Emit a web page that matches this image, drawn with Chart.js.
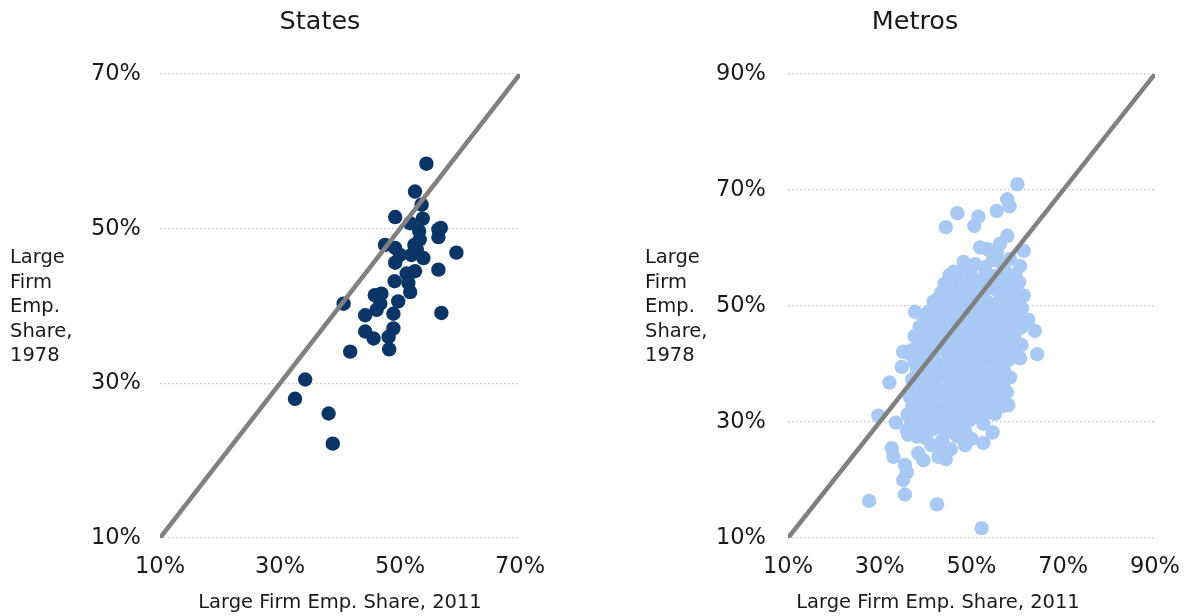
<!DOCTYPE html>
<html><head><meta charset="utf-8">
<script src="https://cdn.jsdelivr.net/npm/chart.js@4.4.0/dist/chart.umd.min.js"></script>
<style>
html,body{margin:0;padding:0;background:#fff;}
#wrap{position:relative;width:1185px;height:616px;overflow:hidden;}
#c1{position:absolute;left:0;top:0;}
#c2{position:absolute;left:640px;top:0;}
</style></head><body>
<div id="wrap">
<canvas id="c1" width="640" height="616"></canvas>
<canvas id="c2" width="556" height="616"></canvas>
</div>
<script>
// ---- Data ----
const stateTicks = [10, 30, 50, 70];
const metroTicks = [10, 30, 50, 70, 90];
const stateDiagonal = [[10, 10], [70, 70]];
const metroDiagonal = [[10, 10], [90, 90]];
// [share 2011, share 1978]
const statePoints = [
  [54.4,58.4],[52.5,54.8],[53.6,53.1],[49.2,51.5],[53.8,51.3],[51.7,50.7],[56.4,49.9],[56.8,50.1],
  [56.4,48.9],[53.2,49.7],[53.3,48.6],[52.4,47.9],[47.5,47.9],[49.2,47.5],[59.4,46.9],[52.8,47.3],
  [51.9,46.6],[53.9,46.2],[49.2,45.6],[50.0,46.6],[56.4,44.7],[51.1,44.2],[52.5,44.5],[49.1,43.2],
  [51.4,43.0],[51.7,41.8],[45.8,41.4],[46.9,41.6],[46.7,40.3],[49.7,40.6],[40.6,40.3],[46.1,39.5],
  [44.2,38.8],[48.9,39.0],[56.9,39.1],[44.2,36.7],[45.6,35.8],[48.9,37.1],[48.1,36.0],[41.7,34.1],
  [48.2,34.4],[34.2,30.5],[32.5,28.0],[38.1,26.1],[38.8,22.2]
];
const metroPoints = [
  // upper outliers
  [60.0,71.0],[57.8,68.4],[58.3,67.2],[55.5,66.4],[46.9,66.0],[51.5,65.4],[50.6,63.8],[44.4,63.6],
  [57.8,62.1],[56.2,60.7],[51.9,60.1],[53.5,59.8],[61.4,59.5],[55.5,59.1],[60.6,56.9],[49.3,56.8],
  [46.1,55.9],[52.9,56.7],
  // right edge
  [61.4,51.8],[62.4,47.6],[63.8,45.7],[64.3,41.7],[60.6,41.0],[60.9,43.3],[59.8,48.2],
  // left edge
  [41.7,50.7],[37.7,49.0],[40.2,48.7],[35.1,42.1],[37.0,42.4],[39.9,43.3],[34.8,39.5],[32.1,36.8],
  [42.4,45.9],[42.0,44.4],
  // lower part
  [29.7,31.1],[33.5,29.9],[32.6,25.5],[33.0,24.0],[35.5,22.6],[35.1,20.0],[35.5,17.5],[27.7,16.4],
  [38.4,24.6],[39.5,23.4],[36.2,27.8],[36.6,30.6],[42.8,24.0],[42.5,15.8],[52.2,11.7],[44.4,23.6],
  [45.5,25.3],[42.8,25.5],[46.9,27.5],[48.6,26.0],[50.0,27.1],[52.6,26.4],[54.6,28.2],[51.6,30.8],
  [53.7,31.8],[57.7,35.1],[58.0,32.9],[43.9,28.6],[41.3,26.0],[35.9,28.6],[38.1,27.5],[35.9,21.3],
  // main cluster
  [48.3,57.6],[50.8,57.2],[54.6,57.9],[56.7,57.3],[58.4,58.1],
  [45.2,55.3],[47.6,55.8],[50.1,55.1],[53.2,55.6],[55.1,55.2],[57.4,55.9],[59.6,55.4],
  [44.1,53.8],[46.7,54.3],[48.9,53.6],[51.6,54.2],[54.2,53.7],[56.1,54.4],[58.6,53.9],[60.4,54.1],
  [43.4,52.3],[45.7,52.8],[48.2,52.1],[50.4,52.7],[52.6,52.4],[55.2,52.9],[57.1,52.2],[59.3,52.6],
  [42.6,51.2],[44.8,50.8],[47.1,51.4],[49.6,50.9],[51.7,51.3],[53.4,50.7],[56.2,51.1],[58.1,50.6],[60.2,51.0],
  [41.2,49.3],[43.6,49.8],[45.9,49.4],[48.4,49.7],[50.6,49.2],[52.7,49.6],[54.6,49.1],[57.2,49.8],[59.1,49.4],[61.0,49.6],
  [39.6,47.8],[42.1,48.2],[44.3,47.7],[46.8,48.3],[49.2,47.9],[51.1,48.1],[53.2,47.6],[55.4,48.2],[57.6,47.8],
  [38.7,46.4],[41.2,46.8],[43.4,46.2],[45.6,46.7],[48.1,46.3],[50.2,46.9],[52.1,46.4],[54.2,46.8],[56.6,46.2],[58.4,46.6],[60.8,46.3],
  [37.6,44.8],[40.1,45.2],[42.7,44.7],[45.1,45.3],[47.2,44.9],[49.1,45.1],[51.2,44.6],[53.6,45.2],[55.4,44.8],[57.6,45.3],[59.4,44.9],
  [38.6,43.7],[41.2,43.2],[43.6,43.8],[46.1,43.4],[48.2,43.6],[50.1,43.1],[52.2,43.7],[54.6,43.3],[56.4,43.8],[58.6,43.4],
  [36.4,41.8],[39.1,42.2],[41.6,41.7],[44.2,42.3],[46.4,41.9],[48.6,42.1],[50.7,41.6],[53.1,42.2],[55.2,41.8],[57.1,42.3],[59.1,41.7],
  [37.6,40.3],[40.2,40.8],[42.4,40.2],[45.1,40.7],[47.6,40.4],[49.4,40.9],[51.6,40.3],[54.1,40.6],[56.2,40.2],[58.1,40.7],
  [38.1,38.8],[40.6,39.2],[43.1,38.7],[45.4,39.3],[48.1,38.9],[50.2,39.1],[52.4,38.6],[55.1,39.2],[57.1,38.8],
  [37.1,37.3],[39.6,37.8],[42.1,37.2],[44.6,37.7],[46.6,37.4],[49.1,37.9],[51.2,37.3],[53.6,37.6],[56.1,37.2],[58.4,37.7],
  [37.6,35.8],[40.1,36.3],[42.6,35.7],[45.2,36.2],[47.6,35.9],[50.1,36.4],[52.2,35.8],[54.6,36.1],[57.1,35.7],
  [36.6,34.3],[39.1,34.8],[41.6,34.2],[44.1,34.7],[46.6,34.4],[48.6,34.9],[51.1,34.3],[53.6,34.6],[55.6,34.2],
  [37.1,32.8],[39.6,33.3],[42.1,32.7],[44.6,33.2],[47.1,32.9],[49.6,33.4],[52.1,32.8],[54.6,33.1],[56.6,32.7],
  [36.1,31.3],[38.6,31.8],[41.1,31.2],[43.6,31.7],[46.1,31.4],[48.6,31.8],[50.6,31.2],[55.1,31.4],
  [37.6,29.8],[40.1,30.3],[42.6,29.7],[45.1,30.2],[47.6,29.9],[49.6,30.3],[52.6,29.7],
  [39.1,28.3],[41.6,28.8],[44.6,28.2],[46.6,28.7],[48.6,28.4],
  [40.1,27.2],[43.6,26.8]
];
const yTitleLines = ['Large', 'Firm', 'Emp.', 'Share,', '1978'];
const xTitle = 'Large Firm Emp. Share, 2011';

// ---- Drawing ----
const FONT = '"DejaVu Sans", sans-serif';
const TXT = '#1a1a1a';

const textPlugin = {
  id: 'texts',
  afterDraw(chart, args, o) {
    const ctx = chart.ctx;
    ctx.save();
    ctx.fillStyle = TXT;
    ctx.textBaseline = 'middle';
    ctx.textAlign = 'center';
    ctx.font = '25.5px ' + FONT;
    ctx.fillText(o.title, o.titleX, 22);
    ctx.font = '19.5px ' + FONT;
    ctx.fillText(xTitle, o.xTitleX, 603);
    ctx.textAlign = 'left';
    yTitleLines.forEach((s, i) => ctx.fillText(s, o.yTitleX, 258 + i * 24.5));
    ctx.restore();
  }
};

function makeChart(id, pts, diag, ticks, color, cfg) {
  const lo = ticks[0], hi = ticks[ticks.length - 1];
  const tickFont = { family: FONT, size: 22.5 };
  return new Chart(document.getElementById(id), {
    type: 'scatter',
    data: {
      datasets: [
        {
          type: 'line',
          data: diag.map(p => ({ x: p[0], y: p[1] })),
          borderColor: '#808080',
          borderWidth: 4.5,
          pointRadius: 0,
          fill: false,
          order: 0
        },
        {
          data: pts.map(p => ({ x: p[0], y: p[1] })),
          backgroundColor: color,
          borderWidth: 0,
          pointRadius: 7.2,
          pointHoverRadius: 7.2,
          order: 1
        }
      ]
    },
    options: {
      responsive: false,
      animation: false,
      events: [],
      devicePixelRatio: 1,
      layout: { padding: { top: 74, right: cfg.padRight, bottom: 0, left: 0 } },
      plugins: {
        legend: { display: false },
        tooltip: { enabled: false },
        title: { display: false },
        texts: cfg.texts
      },
      scales: {
        x: {
          type: 'linear', min: lo, max: hi,
          afterBuildTicks: s => { s.ticks = ticks.map(v => ({ value: v })); },
          ticks: { callback: v => v + '%', color: TXT, font: tickFont, padding: 16, maxRotation: 0 },
          grid: { display: false, drawTicks: false },
          border: { display: false },
          afterFit: s => { s.height = 78; }
        },
        y: {
          type: 'linear', min: lo, max: hi,
          afterBuildTicks: s => { s.ticks = ticks.map(v => ({ value: v })); },
          ticks: { callback: v => v + '%', color: TXT, font: tickFont, padding: cfg.yPad },
          grid: { color: '#c4c4c4', lineWidth: 1.2, drawTicks: false },
          border: { display: false, dash: [1.5, 2.5] },
          afterFit: s => { s.width = cfg.yWidth; }
        }
      }
    },
    plugins: [textPlugin]
  });
}

makeChart('c1', statePoints, stateDiagonal, stateTicks, '#0a3566', {
  padRight: 120, yWidth: 160, yPad: 19,
  texts: { title: 'States', titleX: 320, xTitleX: 340, yTitleX: 10 }
});
makeChart('c2', metroPoints, metroDiagonal, metroTicks, '#a8c9f3', {
  padRight: 41, yWidth: 148, yPad: 22,
  texts: { title: 'Metros', titleX: 275, xTitleX: 298, yTitleX: 5 }
});
</script>
</body></html>
